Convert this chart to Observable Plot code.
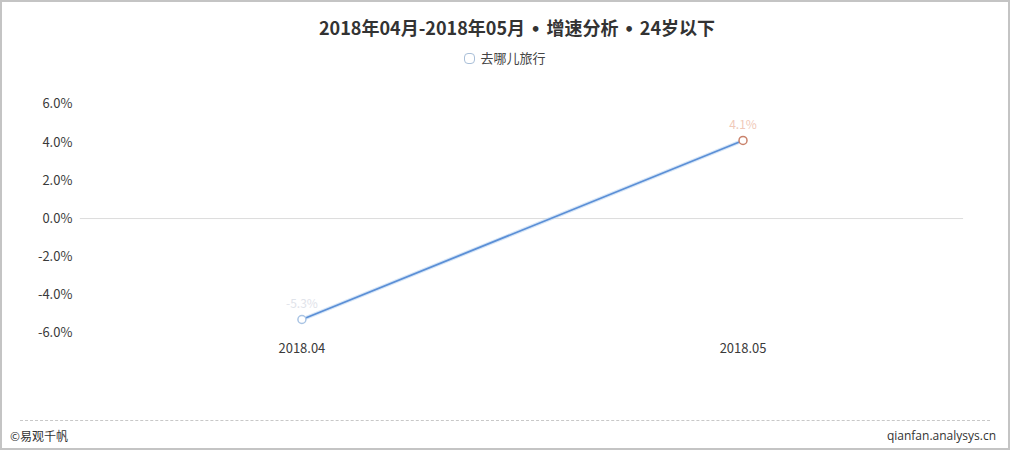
<!DOCTYPE html>
<html>
<head>
<meta charset="utf-8">
<script src="https://cdn.jsdelivr.net/npm/d3@7"></script>
<script src="https://cdn.jsdelivr.net/npm/@observablehq/plot@0.6"></script>
<style>
  html, body { margin: 0; padding: 0; background: #fff; }
  #wrap { position: relative; width: 1010px; height: 450px; box-sizing: border-box;
          border: 2px solid #c4c4c4; overflow: hidden; font-family: "Noto Sans CJK SC", "Noto Sans", sans-serif; }
  #title { position: absolute; left: 0; width: 1030px; top: 12px; text-align: center;
           font-size: 18px; font-weight: bold; color: #333; }
  #title .b { font-family: "DejaVu Sans", sans-serif; font-size: 16px; }
  #legend { position: absolute; left: 0; width: 1006px; top: 46px; text-align: center;
            font-size: 13px; color: #444; }
  #legend .sw { display: inline-block; width: 9px; height: 9px; border: 1.5px solid #a9bfd8;
                border-radius: 4px; vertical-align: -1px; margin-right: 5px; }
  #chart { position: absolute; left: -2px; top: -2px; }
  #foot { position: absolute; left: 18px; right: 18px; top: 418px; border-top: 1px dashed #c8c8c8; }
  #cl { position: absolute; left: 8px; top: 425px; font-size: 12px; color: #333; }
  #cr { position: absolute; right: 12px; top: 425px; font-size: 12px; color: #333; font-family: "Open Sans", "Noto Sans", sans-serif; }
</style>
</head>
<body>
<div id="wrap">
  <div id="chart"></div>
  <div id="title">2018年04月-2018年05月<span class="b"> • </span>增速分析<span class="b"> • </span>24岁以下</div>
  <div id="legend"><span class="sw"></span>去哪儿旅行</div>
  <div id="foot"></div>
  <div id="cl">©易观千帆</div>
  <div id="cr">qianfan.analysys.cn</div>
</div>
<script>
const months = ["2018.04", "2018.05"];
const growth = [-5.3, 4.1];
const seriesName = "去哪儿旅行";
const yTicks = [-6, -4, -2, 0, 2, 4, 6];
const labelColors = ["#dfe3ea", "#f0c9b8"];
const pointColors = ["#a9c4e4", "#c9826b"];

const data = months.map((m, i) => ({ month: m, value: growth[i], i }));

const chart = Plot.plot({
  width: 1010,
  height: 450,
  marginLeft: 80,
  marginRight: 45,
  marginTop: 104,
  marginBottom: 117,
  style: { fontFamily: "\"Noto Sans CJK SC\", \"Noto Sans\", sans-serif", fontSize: "13px", color: "#333", background: "transparent" },
  x: { type: "point", domain: months, padding: 0.5, label: null },
  y: { domain: [-6, 6], label: null },
  marks: [
    Plot.ruleY([0], { stroke: "#dcdcdc", strokeWidth: 1 }),
    Plot.axisY({ ticks: yTicks, tickSize: 0, tickPadding: 8, tickFormat: d => d.toFixed(1) + "%", fill: "#3a3a3a", fontSize: 13 }),
    Plot.axisX({ tickSize: 0, tickPadding: 11, fill: "#3a3a3a", fontSize: 13 }),
    Plot.line(data, { x: "month", y: "value", stroke: "#b9d3f2", strokeWidth: 4, strokeOpacity: 0.6 }),
    Plot.line(data, { x: "month", y: "value", stroke: "#5b8fd6", strokeWidth: 1.8 }),
    Plot.dot(data, { x: "month", y: "value", r: 4, fill: "#fff", stroke: d => pointColors[d.i], strokeWidth: 1.5 }),
    Plot.text(data, { x: "month", y: "value", text: d => d.value.toFixed(1) + "%", dy: -15, fill: d => labelColors[d.i], fontSize: 12 })
  ]
});
document.getElementById("chart").appendChild(chart);
</script>
</body>
</html>
